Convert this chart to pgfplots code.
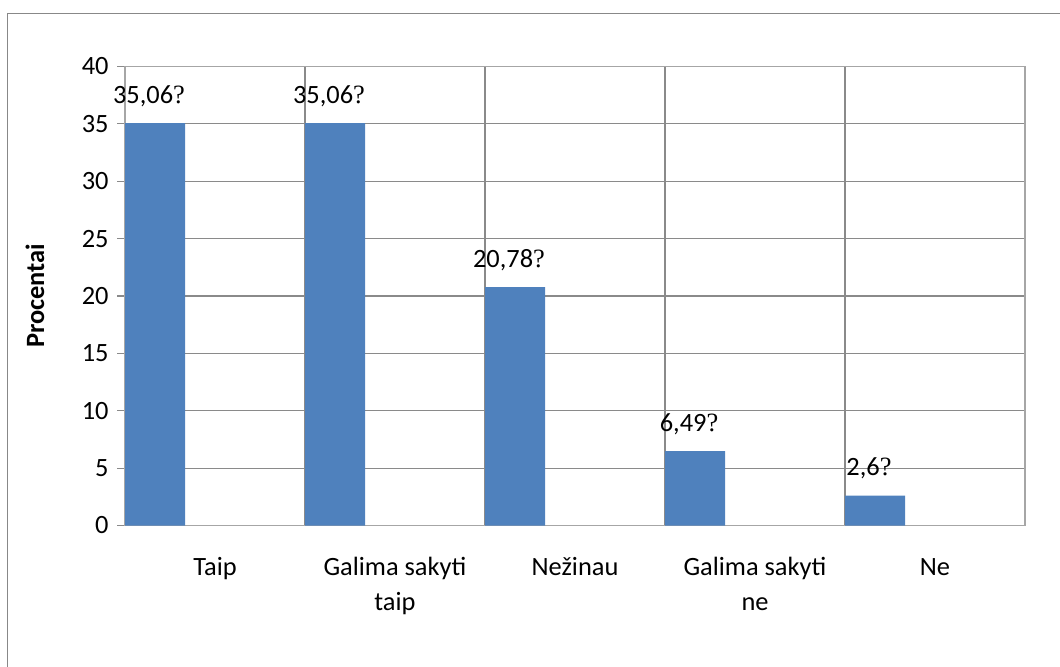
\documentclass[border=0pt]{standalone}
\usepackage{fontspec}
\setmainfont{Carlito}
\newfontfamily\qfont{Liberation Serif}
\usepackage{pgfplots}
\pgfplotsset{compat=1.18}
\definecolor{barblue}{HTML}{4F81BD}
\definecolor{gridgray}{HTML}{8A8A8A}
\definecolor{axisgray}{HTML}{A6A6A6}
\definecolor{framegray}{HTML}{888888}
\newcommand{\tl}{\rule{0pt}{12pt}}
\begin{document}
\begin{tikzpicture}[font=\fontsize{13.2pt}{17.5pt}\selectfont]
\path[use as bounding box] (0,0) rectangle (530pt,333pt);
\draw[framegray, line width=0.75pt] (3.7pt,-1pt) -- (3.7pt,326.3pt) -- (531pt,326.3pt);
\begin{axis}[
  at={(62.5pt,70.25pt)}, anchor=south west,
  scale only axis, width=450pt, height=229.5pt,
  xmin=0, xmax=5, ymin=0, ymax=40,
  ytick={0,5,...,40},
  xtick={0.5,1.5,2.5,3.5,4.5},
  xticklabels={\tl Taip, {\tl Galima sakyti\\taip}, \tl Nežinau, {\tl Galima sakyti\\ne}, \tl Ne},
  minor xtick={1,2,3,4},
  xminorgrids=true, ymajorgrids=true,
  grid style={gridgray, line width=0.6pt},
  minor grid style={gridgray, line width=0.6pt},
  axis line style={axisgray, line width=0.8pt},
  tick align=outside,
  ytick pos=left,
  major tick length=4pt,
  minor tick length=0pt,
  x tick style={draw=none},
  minor x tick style={draw=none},
  y tick style={gridgray, line width=0.6pt},
  /pgf/number format/assume math mode=true,
  xticklabel style={anchor=north, inner sep=0pt, align=center, yshift=-8.7pt},
  yticklabel style={anchor=east, inner sep=0pt, xshift=-4pt},
  ylabel={Procentai},
  ylabel style={at={(axis description cs:-0.1,0.5)}, anchor=center, font=\fontsize{13.2pt}{17.5pt}\selectfont\bfseries},
  ybar, bar width=0.333333, bar shift=0pt,
  nodes near coords={\pgfmathprintnumber[fixed, precision=2, use comma, assume math mode=true]{\pgfplotspointmeta}{\qfont ?}},
  every node near coord/.append style={anchor=base, inner sep=0pt, yshift=10pt, xshift=-3pt, black},
  clip=false,
]
\addplot[fill=barblue, draw=none] table[x=x, y=y] {
x y
0.1666667 35.06
1.1666667 35.06
2.1666667 20.78
3.1666667 6.49
4.1666667 2.6
};
\end{axis}
\end{tikzpicture}
\end{document}
